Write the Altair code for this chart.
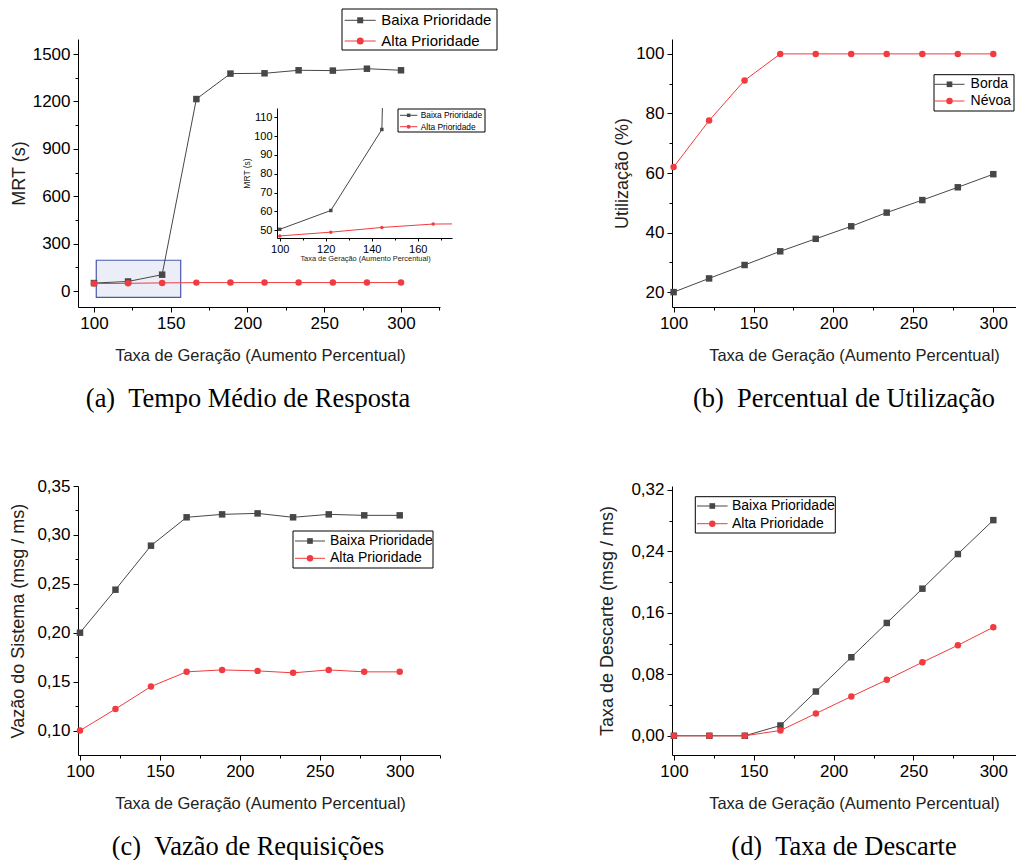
import altair as alt
import pandas as pd

# ---------------- data ----------------
taxa = [100, 122.2, 144.4, 166.7, 188.9, 211.1, 233.3, 255.6, 277.8, 300]

prioridades = ["Baixa Prioridade", "Alta Prioridade"]
camadas = ["Borda", "Névoa"]

mrt_baixa = [50.5, 60.5, 103.5, 1215, 1376, 1378, 1397, 1395, 1407, 1397]
mrt_alta = [47.0, 49.0, 51.5, 53.3, 53.5, 53.6, 53.5, 53.6, 53.5, 53.6]
util_borda = [20.0, 24.6, 29.1, 33.7, 37.9, 42.1, 46.7, 50.9, 55.2, 59.6]
util_nevoa = [62.0, 77.6, 91.1, 100.0, 100.0, 100.0, 100.0, 100.0, 100.0, 100.0]
vazao_baixa = [0.200, 0.244, 0.289, 0.318, 0.321, 0.322, 0.318, 0.321, 0.320, 0.320]
vazao_alta = [0.100, 0.122, 0.145, 0.160, 0.162, 0.161, 0.159, 0.162, 0.160, 0.160]
descarte_baixa = [0.0, 0.0, 0.0, 0.0134, 0.0576, 0.1022, 0.1468, 0.1914, 0.2365, 0.2806]
descarte_alta = [0.0, 0.0, 0.0, 0.0069, 0.0290, 0.0511, 0.0728, 0.0957, 0.1178, 0.1412]

zoom_x = [101.5, 156.5]
zoom_y = [-40, 195]

x_major = [100, 150, 200, 250, 300]
x_minor = [125, 175, 225, 275, 325]
inset_x_major = [100, 120, 140, 160]
inset_x_minor = [110, 130, 150, 170]
inset_y_major = [50, 60, 70, 80, 90, 100, 110]
mrt_y_major = [0, 300, 600, 900, 1200, 1500]
mrt_y_minor = [150, 450, 750, 1050, 1350]
util_y_major = [20, 40, 60, 80, 100]
util_y_minor = [30, 50, 70, 90]
vazao_y_major = [0.10, 0.15, 0.20, 0.25, 0.30, 0.35]
vazao_y_minor = [0.125, 0.175, 0.225, 0.275, 0.325]
desc_y_major = [0.00, 0.08, 0.16, 0.24, 0.32]
desc_y_minor = [0.04, 0.12, 0.20, 0.28]

SANS = "Liberation Sans, Arial, sans-serif"
SERIF = "Liberation Serif, Times New Roman, serif"
COLORS = ["#474747", "#f03c40"]
SHAPES = ["square", "circle"]
COMMA = "replace(format(datum.value, '.2f'), '.', ',')"
INT = "format(datum.value, 'd')"


def long_df(names, a, b):
    return pd.DataFrame({
        "x": taxa + taxa,
        "y": a + b,
        "s": [names[0]] * len(taxa) + [names[1]] * len(taxa),
    })


def legend_box(names, x0, y0, bw, bh, c0, dy, lx0, lx1, tx, font, sizes):
    """Boxed legend: line segment + marker + label for each series."""
    layers = [
        alt.Chart(pd.DataFrame({"s": [names[0]]})).mark_rect(
            fill="white", stroke="black", strokeWidth=1
        ).encode(x=alt.value(x0), x2=alt.value(x0 + bw),
                 y=alt.value(y0), y2=alt.value(y0 + bh))
    ]
    for i, (name, shape, col, size) in enumerate(zip(names, SHAPES, COLORS, sizes)):
        cy = y0 + c0 + i * dy
        row = alt.Chart(pd.DataFrame({"s": [name]}))
        layers.append(row.mark_rule(color=col, strokeWidth=1).encode(
            x=alt.value(x0 + lx0), x2=alt.value(x0 + lx1), y=alt.value(cy)))
        layers.append(row.mark_point(filled=True, opacity=1, shape=shape,
                                     size=size, color=col).encode(
            x=alt.value(x0 + (lx0 + lx1) / 2), y=alt.value(cy)))
        layers.append(row.mark_text(align="left", baseline="middle", font=SANS,
                                    fontSize=font, color="black").encode(
            x=alt.value(x0 + tx), y=alt.value(cy), text="s:N"))
    return layers


def panel(df, names, xdom, ydom, w, h, xmaj, xmin, ymaj, ymin, ylab,
          ytitle, ytitle_x, xtitle, xtitle_x, xtitle_y, legend,
          pt_size, tick_font, ytitle_font, xtitle_font,
          tick_size=5, minor_size=3, label_pad=3, extra=None,
          caption=None, cap_dx=0, view_w=None, clip=False):
    if view_w is None:
        xs = alt.Scale(domain=xdom, nice=False, zero=False)
    else:
        xs = alt.Scale(domain=xdom, nice=False, zero=False, range=[0, w])
    ys = alt.Scale(domain=ydom, nice=False, zero=False)
    x_axis = alt.Axis(orient="bottom", values=xmaj, labelExpr=INT,
                      title=xtitle, titleX=xtitle_x, titleY=xtitle_y,
                      titleAlign="center", titleBaseline="alphabetic",
                      titleFontSize=xtitle_font, titleColor="#222",
                      labelFontSize=tick_font, tickSize=tick_size,
                      labelPadding=label_pad)
    y_axis = alt.Axis(orient="left", values=ymaj, labelExpr=ylab,
                      title=ytitle, titleX=ytitle_x, titleY=h / 2,
                      titleAngle=-90, titleAlign="center",
                      titleBaseline="alphabetic",
                      titleFontSize=ytitle_font, titleColor="#222",
                      labelFontSize=tick_font, tickSize=tick_size,
                      labelPadding=label_pad)
    x_minor_axis = alt.Axis(orient="bottom", values=xmin, labels=False,
                            domain=False, title=None, tickSize=minor_size)
    y_minor_axis = alt.Axis(orient="left", values=ymin, labels=False,
                            domain=False, title=None, tickSize=minor_size)

    base = alt.Chart(df)
    lines = base.mark_line(strokeWidth=1, clip=clip).encode(
        x=alt.X("x:Q", scale=xs, axis=x_axis),
        y=alt.Y("y:Q", scale=ys, axis=y_axis),
        color=alt.Color("s:N", scale=alt.Scale(domain=names, range=COLORS),
                        legend=None),
    )
    pts = []
    for i, (name, shape, col) in enumerate(zip(names, SHAPES, COLORS)):
        xa = x_minor_axis if i == 0 else None
        ya = y_minor_axis if i == 0 else None
        pts.append(
            base.transform_filter(alt.datum.s == name)
            .mark_point(filled=True, opacity=1, size=pt_size, shape=shape,
                        color=col, clip=clip)
            .encode(x=alt.X("x:Q", scale=xs, axis=xa),
                    y=alt.Y("y:Q", scale=ys, axis=ya))
        )
    layers = []
    if extra is not None:
        layers.append(extra(xs, ys))
    layers += [lines] + pts + legend_box(names, **legend)
    ch = alt.layer(*layers).resolve_axis(x="independent", y="independent")
    props = dict(width=view_w if view_w is not None else w, height=h)
    if caption:
        props["title"] = alt.TitleParams(
            text=caption, orient="bottom", anchor="middle", frame="group",
            font=SERIF, fontSize=26.4, fontWeight="normal", color="black",
            offset=22, dx=cap_dx)
    return ch.properties(**props)


def zoom_box(xs, ys):
    box = pd.DataFrame({"x1": [zoom_x[0]], "x2": [zoom_x[1]],
                        "y1": [zoom_y[0]], "y2": [zoom_y[1]]})
    return alt.Chart(box).mark_rect(
        fill="#eceef7", stroke="#4a58b0", strokeWidth=1.2, opacity=1
    ).encode(x=alt.X("x1:Q", scale=xs, axis=None), x2="x2:Q",
             y=alt.Y("y1:Q", scale=ys, axis=None), y2="y2:Q")


XT = "Taxa de Geração (Aumento Percentual)"

pa = panel(long_df(prioridades, mrt_baixa, mrt_alta), prioridades,
           [89.6, 325.4], [-101, 1595], 362, 268,
           x_major, x_minor, mrt_y_major, mrt_y_minor, INT,
           "MRT (s)", -54, XT, 182, 53,
           dict(x0=264, y0=-30, bw=155, bh=41, c0=11.3, dy=20.7,
                lx0=2.7, lx1=33.7, tx=39.3, font=15, sizes=[36, 49]),
           42, 17, 18, 16.5, extra=zoom_box,
           caption="(a)\u2002Tempo Médio de Resposta", cap_dx=70.5,
           view_w=199)

inset = panel(long_df(prioridades, mrt_baixa, mrt_alta), prioridades,
              [98.8, 174.9], [45.9, 114.9], 175, 130,
              inset_x_major, inset_x_minor, inset_y_major, [], INT,
              "MRT (s)", -28, XT, 88, 22,
              dict(x0=121, y0=1, bw=87, bh=23, c0=6.3, dy=11.4,
                   lx0=2, lx1=19.3, tx=22.7, font=8.4, sizes=[12, 16]),
              12, 11, 8.5, 7.4, tick_size=3, minor_size=2, label_pad=2,
              clip=True)

pb = panel(long_df(camadas, util_borda, util_nevoa), camadas,
           [99, 314.2], [15, 105], 344, 268,
           x_major, x_minor, util_y_major, util_y_minor, INT,
           "Utilização (%)", -45, XT, 182, 53,
           dict(x0=262, y0=35.7, bw=80, bh=36.3, c0=9.6, dy=16.7,
                lx0=0.5, lx1=30.5, tx=36.6, font=14, sizes=[32, 42]),
           42, 17, 18, 16.5,
           caption="(b)\u2002Percentual de Utilização", cap_dx=0)

pc = panel(long_df(prioridades, vazao_baixa, vazao_alta), prioridades,
           [98.75, 325.2], [0.075, 0.35], 362, 269,
           x_major, x_minor, vazao_y_major, vazao_y_minor, COMMA,
           "Vazão do Sistema (msg / ms)", -55, XT, 182, 53,
           dict(x0=215, y0=45, bw=140, bh=37, c0=10, dy=17.3,
                lx0=2, lx1=32, tx=37, font=14, sizes=[32, 42]),
           42, 17, 18, 16.5,
           caption="(c)\u2002Vazão de Requisições", cap_dx=70.5,
           view_w=199)

pd_ = panel(long_df(prioridades, descarte_baixa, descarte_alta), prioridades,
            [98.8, 314.2], [-0.025, 0.325], 344, 269,
            x_major, x_minor, desc_y_major, desc_y_minor, COMMA,
            "Taxa de Descarte (msg / ms)", -60, XT, 182, 53,
            dict(x0=23.3, y0=10.7, bw=140, bh=36.3, c0=9.3, dy=17.7,
                 lx0=1.7, lx1=32.3, tx=36.7, font=14, sizes=[32, 42]),
            42, 17, 18, 16.5,
            caption="(d)\u2002Taxa de Descarte", cap_dx=0)

spacer = alt.Chart(pd.DataFrame({"v": [0]})).mark_point(opacity=0).encode(
    x=alt.X("v:Q", axis=None), y=alt.Y("v:Q", axis=None)
).properties(width=395, height=1)

chart = alt.concat(
    pa, inset, pb, pc, spacer, pd_,
    columns=3,
    spacing={"row": 179, "column": 0},
    bounds="flush",
    center={"row": True, "column": False},
).resolve_scale(
    color="independent", fill="independent", stroke="independent",
    shape="independent", x="independent", y="independent",
).properties(
    padding=0, background="white"
).configure_view(
    stroke=None
).configure_axis(
    grid=False, domainColor="black", tickColor="black", labelColor="black",
    labelFont=SANS, titleFont=SANS, titleFontWeight="normal",
    labelFlush=False, labelOverlap=False, domainWidth=1, tickWidth=1,
)

chart.save("out.html", embed_options={"renderer": "svg", "actions": False})
